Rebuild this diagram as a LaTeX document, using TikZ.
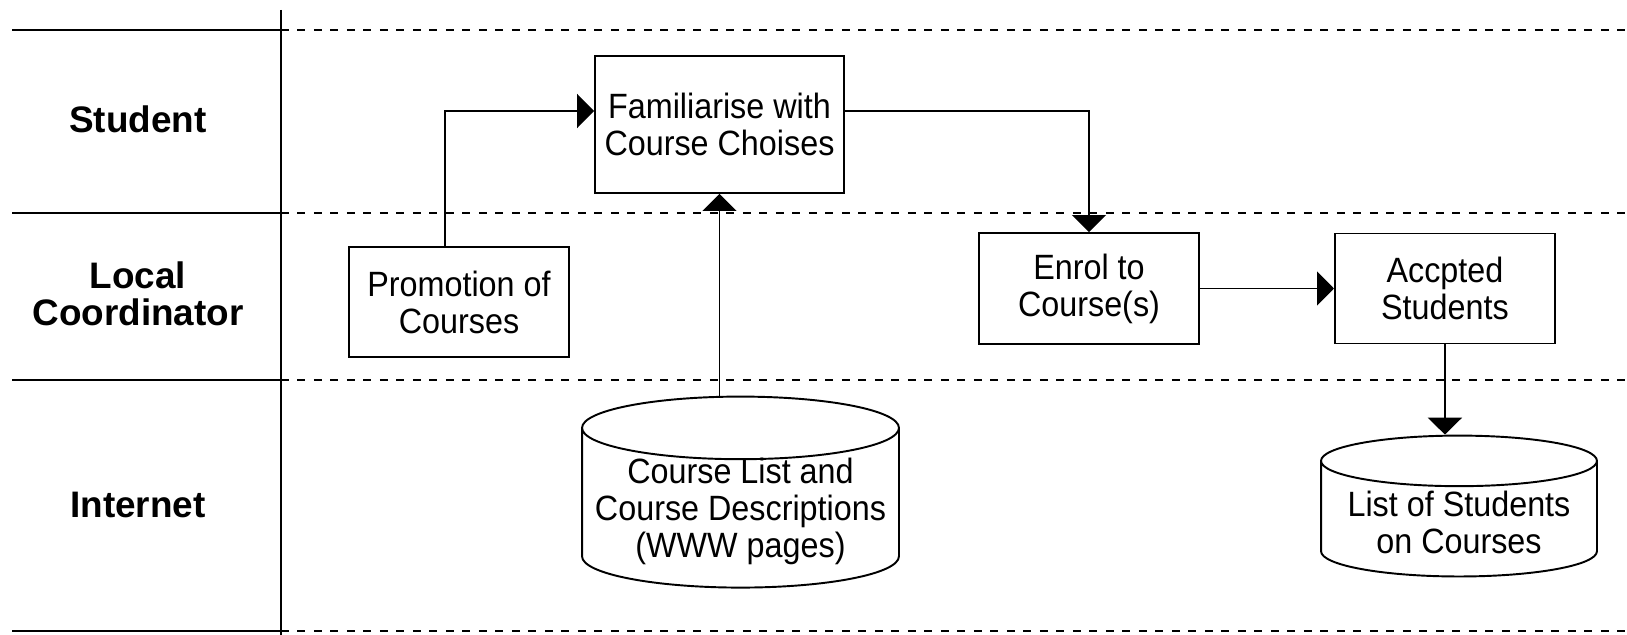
\documentclass[tikz,border=0pt]{standalone}
\usepackage{fontspec}
\setmainfont{Liberation Sans}[FakeStretch=0.92]
\newfontfamily\lanefont{Liberation Sans}
\usetikzlibrary{arrows.meta,shapes.geometric,positioning}

\begin{document}
\begin{tikzpicture}[x=0.02cm, y=-0.02cm, line width=1.1pt,
    font=\fontsize{20}{21}\selectfont,
    arr/.style={-{Triangle[length=0.34cm,width=0.68cm]}},
    lane/.style={align=center, font=\lanefont\bfseries\fontsize{21}{21}\selectfont},
    task/.style={rectangle, draw=black, align=center, inner sep=2pt},
    store/.style={cylinder, shape border rotate=90, draw=black, align=center, inner sep=2pt}]
  \useasboundingbox (0,0) rectangle (1627,635);

  % swimlanes
  \draw (281,10) -- (281,635);
  \foreach \y in {30,213,380,631} {
    \draw (12,\y) -- (281,\y);
    \draw[dash pattern=on 0.16cm off 0.17cm] (281,\y) -- (1627,\y);
  }
  \node[lane] (student) at (138,119) {Student};
  \node[lane] (local) at (138,294) {Local\\Coordinator};
  \node[lane] (internet) at (138,505) {Internet};

  % activities
  \node[task, minimum width=4.98cm, minimum height=2.74cm] (fam) at (719.5,124.5) {Familiarise with\\Course Choises};
  \node[task, minimum width=4.4cm, minimum height=2.2cm] (promo) at (459,302) {Promotion of\\Courses};
  \node[task, minimum width=4.4cm, minimum height=2.22cm] (enrol) at (1089,288.5) {Enrol to\\Course(s)};
  \node[task, minimum width=4.4cm, minimum height=2.2cm, right of=enrol, node distance=7.12cm] (acc) {Accpted\\Students};

  % stores
  \node[store, aspect=0.21, inner ysep=-1.1pt, minimum width=6.34cm] (course) at (740.5,511.5) {Course List and\\Course Descriptions\\(WWW pages)};
  \node[store, aspect=0.22, minimum width=5.52cm] (list) at (1459,522) {List of Students\\on Courses};

  \draw[arr] ([xshift=-0.28cm]promo.north) |- ([yshift=0.27cm]fam.west);
  \draw[arr] ([yshift=0.27cm]fam.east) -| (enrol.north);
  \draw[arr] (fam.south |- course.north) -- (fam.south);
  \draw[arr] (enrol) -- (acc);
  \draw[arr] (acc.south) -- (acc.south |- list.north);
\end{tikzpicture}
\end{document}
